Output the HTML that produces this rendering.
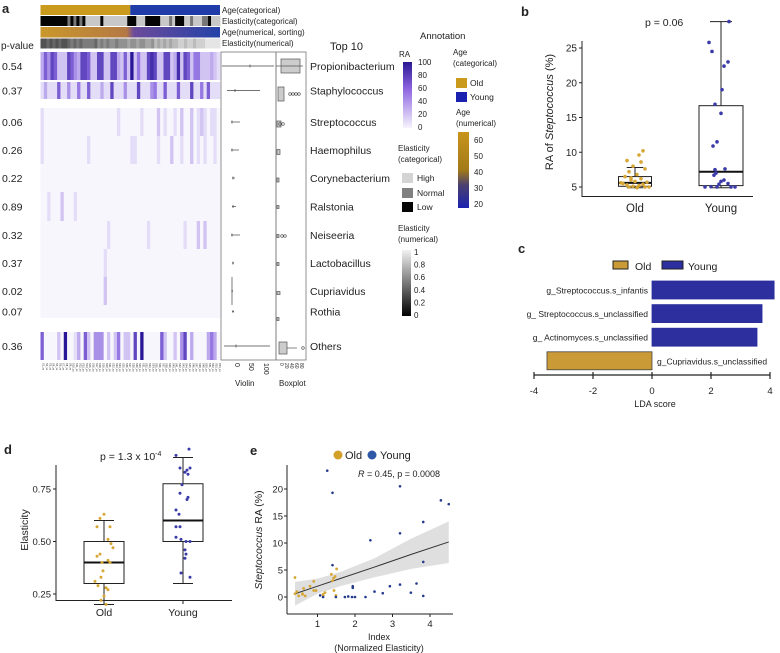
<!DOCTYPE html>
<html><head><meta charset="utf-8"><style>
html,body{margin:0;padding:0;background:#fff;}
svg{display:block;font-family:"Liberation Sans",Arial,sans-serif;}
text{fill:#222;}
</style></head><body>
<svg id="fig" width="780" height="653" viewBox="0 0 780 653" xmlns="http://www.w3.org/2000/svg">
<defs>
<linearGradient id="gRA" x1="0" y1="1" x2="0" y2="0"><stop offset="0" stop-color="#f6f4fd"/><stop offset="0.6" stop-color="#8d63e0"/><stop offset="1" stop-color="#2a1893"/></linearGradient>
<linearGradient id="gAge" x1="0" y1="0" x2="0" y2="1"><stop offset="0" stop-color="#c8951c"/><stop offset="0.5" stop-color="#a27a18"/><stop offset="0.7" stop-color="#4a4070"/><stop offset="1" stop-color="#1c22b0"/></linearGradient>
<linearGradient id="gEl" x1="0" y1="0" x2="0" y2="1"><stop offset="0" stop-color="#f2f2f2"/><stop offset="1" stop-color="#000"/></linearGradient>
<linearGradient id="gAgeNum" x1="0" y1="0" x2="1" y2="0"><stop offset="0" stop-color="#c9982a"/><stop offset="0.48" stop-color="#b47845"/><stop offset="0.52" stop-color="#6c4b9b"/><stop offset="1" stop-color="#2442a8"/></linearGradient>
</defs>
<g id="pa"></g><g id="pb"></g><g id="pc"></g><g id="pd"></g><g id="pe"></g>
</svg>
<script>
// ---------- DATA ----------
const heatSpecies = ["Propionibacterium","Staphylococcus","Streptococcus","Haemophilus","Corynebacterium","Ralstonia","Neiseeria","Lactobacillus","Cupriavidus","Rothia","Others"];
const heatPvalues = ["0.54","0.37","0.06","0.26","0.22","0.89","0.32","0.37","0.02","0.07","0.36"];
const heatRows = [
"364762227643776227722773262925227872277238276255222321",
"131116114115116111311711141117111451161116111711516111",
"100000000000000000000001000000100002010010200201210110",
"100000000000001000000000000110000001000200100201010010",
"000000000000000000000000000000000000000000000000000000",
"001000200010000000000000000000000000000000000000000000",
"000000000000000000001000000000001000000000010002020000",
"000000000000000000010000000000000000000000000000000000",
"000000000000000000020000000000000000000000000000000000",
"000000000000000000000000000000000000000000000000000000",
"600002090013062044402025022070900000620020470300003530"
];
const elastCat = "000000000101010222220222222220002220000022212000221222110222";
const elastNum = "223232322343434444354545545556556556657676767788788788899999";
// panel b
const bOldVals = [10.2,9.6,8.8,8.6,8.0,7.6,7.2,6.8,6.5,6.2,6.0,5.8,5.7,5.5,5.4,5.3,5.2,5.1,5.0,5.0,4.9,5.0,5.6,6.3];
const bOldJit = [8,4,-8,6,-2,10,-6,2,-10,6,-4,0,12,-12,8,-8,4,-2,10,-6,2,14,-14,-4];
const bYoungVals = [28.8,25.8,24.5,23.0,22.4,19.0,16.9,15.6,11.5,10.9,7.6,7.5,7.0,6.7,6.0,5.8,5.5,5.4,5.05,5.0,5.0,5.0,5.0];
const bYoungJit = [8,-12,-9,7,3,1,-6,0,-4,-8,4,-6,-5,-7,3,0,7,-2,-10,10,-16,-4,14];
const bBoxOld = {lo:4.9,q1:5.1,med:5.6,q3:6.5,hi:7.8};
const bBoxYoung = {lo:4.9,q1:5.2,med:7.2,q3:16.7,hi:28.8};
const bTicks = [5,10,15,20,25];
// panel c
const ldaLabels = ["g_Streptococcus.s_infantis","g_ Streptococcus.s_unclassified","g_ Actinomyces.s_unclassified","g_Cupriavidus.s_unclassified"];
const ldaScores = [4.14,3.73,3.56,-3.56];
const ldaTicks = [-4,-2,0,2,4];
// panel d
const dOldVals = [0.63,0.61,0.57,0.57,0.51,0.49,0.44,0.43,0.41,0.40,0.40,0.36,0.33,0.29,0.28,0.27,0.24,0.22,0.2,0.31,0.47];
const dOldJit = [0,-4,-7,6,4,7,-4,-7,4,6,-2,-1,-3,-6,2,4,0,-3,2,-9,9];
const dYoungVals = [0.94,0.91,0.85,0.84,0.85,0.83,0.82,0.77,0.73,0.71,0.70,0.65,0.63,0.57,0.57,0.52,0.51,0.50,0.50,0.46,0.44,0.42,0.35,0.33];
const dYoungJit = [6,-7,-3,4,7,2,5,-1,-3,5,4,-7,-4,-7,-3,-7,-2,3,7,2,3,2,-2,7];
const dBoxOld = {lo:0.2,q1:0.3,med:0.4,q3:0.5,hi:0.6};
const dBoxYoung = {lo:0.3,q1:0.5,med:0.6,q3:0.775,hi:0.9};
const dTicks = [0.25,0.50,0.75];
// panel e
const eYoungX = [1.26,1.4,3.2,4.29,4.5,3.82,3.2,2.41,3.82,1.4,1.94,1.94,2.93,3.2,3.64,2.52,2.74,3.49,3.82,1.07,1.49,1.73,1.82,1.92,2.0,2.28,1.15];
const eYoungY = [23.4,19.3,20.5,17.9,17.2,13.9,11.8,10.5,6.5,5.9,2.0,1.7,2.0,2.3,2.5,1.0,0.7,0.8,0.2,0.3,0,0,0.1,0,0,0,0];
const eOldX = [0.4,0.4,0.6,0.8,1.37,1.4,1.15,1.51,1.47,1.43,0.9,0.9,0.63,0.6,1.2,1.44,1.49,1.15,0.96,0.67,0.45,0.5];
const eOldY = [3.6,0.6,0.6,2.0,4.2,3.0,0.5,5.2,3.8,3.5,2.9,1.2,1.6,0.5,0.8,1.2,0.3,0.3,1.2,0.2,1.0,0.2];
const eFitX = [0.4,1,1.6,2.5,3.5,4.5];
const eFitY = [0.6,2.0,3.4,5.5,7.9,10.2];
const eBandLo = [-1.6,0.6,2.0,3.6,5.2,6.3];
const eBandHi = [2.8,3.4,4.6,7.1,10.8,14.0];
const eXTicks = [1,2,3,4];
const eYTicks = [0,5,10,15,20];

// ---------- helpers ----------
const NS="http://www.w3.org/2000/svg";
function mk(tag, attrs, parent){const e=document.createElementNS(NS,tag);for(const k in attrs)e.setAttribute(k,attrs[k]);parent.appendChild(e);return e;}
function tx(str, x, y, size, parent, anchor){const e=mk('text',{x:x,y:y,'font-size':size,'text-anchor':anchor||'start'},parent);e.textContent=str;return e;}
function lerp(a,b,t){return a+(b-a)*t;}
function heatColor(v){
  const t=v/9; let c;
  const c0=[248,246,253],c1=[142,110,224],c2=[40,22,150];
  if(t<0.6){const u=t/0.6;c=c0.map((x,i)=>lerp(x,c1[i],u));}
  else{const u=(t-0.6)/0.4;c=c1.map((x,i)=>lerp(x,c2[i],u));}
  return 'rgb('+c.map(Math.round).join(',')+')';
}

// ---------- PANEL A ----------
const pa=document.getElementById('pa');
let el;
el=tx('a',2,13,13,pa); el.setAttribute('font-weight','bold');


const hx0=40.5,hx1=220,ncol=54,cw=(hx1-hx0)/ncol;
// annotation bars
el=mk('rect',{x:hx0,y:5,width:(hx1-hx0)/2,height:10,fill:'#c99a1c'},pa);


el=mk('rect',{x:hx0+(hx1-hx0)/2,y:5,width:(hx1-hx0)/2,height:10,fill:'#1f3ca8'},pa);


const catCols=['#050505','#777','#c8c8c8'];
const ne=elastCat.length, ew=(hx1-hx0)/ne;
for(let i=0;i<ne;i++){
  el=mk('rect',{x:hx0+i*ew,y:16,width:ew+0.4,height:10,fill:catCols[+elastCat[i]]},pa);
  
  
  const g=Math.round(40+(+elastNum[i])*21);
  el=mk('rect',{x:hx0+i*ew,y:38.5,width:ew+0.4,height:10,fill:'rgb('+g+','+g+','+g+')'},pa);
  
  
}
el=mk('rect',{x:hx0,y:27,width:hx1-hx0,height:10.5,fill:'url(#gAgeNum)'},pa);


const annLabels=['Age(categorical)','Elasticity(categorical)','Age(numerical, sorting)','Elasticity(numerical)'];
annLabels.forEach((s,i)=>{el=tx(s,222,13+i*11,8,pa);

});
el=tx('p-value',1,49,10,pa);


el=tx('Top 10',330,50,11,pa);


// heat rows
const rowTops=[52,80,108,136,164,192,221,249,277,305,332];
const rowH=[28,18,28,28,28,28,28,28,28,28,28];
const rowDraw=[[52,80],[82,99],[108,136],[136,164],[164,192],[192,221],[221,249],[249,277],[277,305],[305,318],[332,360]];
heatRows.forEach((row,r)=>{
  for(let c=0;c<ncol;c++){
    const v=+row[c];
    el=mk('rect',{x:hx0+c*cw,y:rowDraw[r][0],width:cw+0.3,height:rowDraw[r][1]-rowDraw[r][0],fill:heatColor(v)},pa);
    
    
  }
  const cy=(rowDraw[r][0]+rowDraw[r][1])/2;
  el=tx(heatPvalues[r],2,cy+4,10.5,pa);
  
  
  el=tx(heatSpecies[r],310,cy+4,10.5,pa);
  
  
});
// tiny sample labels
for(let c=0;c<ncol;c++){
  el=tx('S'+(c+1)+'_xx',0,0,2.6,pa);
  el.setAttribute('transform','translate('+(hx0+c*cw+2.2)+',363) rotate(90)');
  el.setAttribute('fill','#555');
  
  
}
// violin & boxplot frames
el=mk('rect',{x:221,y:52,width:55,height:308,fill:'none',stroke:'#777','stroke-width':0.8},pa);


el=mk('rect',{x:276,y:52,width:30,height:308,fill:'none',stroke:'#777','stroke-width':0.8},pa);


const vio=[[222,274,250],[227,260,235],[231,240,232],[231,239,232],[232,235,233],[232,236,233],[231,240,232],[232,234,233],[232,233,232],[232,234,233],[224,270,236]];
vio.forEach((v,r)=>{const cy=(rowDraw[r][0]+rowDraw[r][1])/2;
  el=mk('line',{x1:v[0],x2:v[1],y1:cy,y2:cy,stroke:'#444','stroke-width':0.7},pa);
  
  
  el=mk('line',{x1:v[2],x2:v[2],y1:cy-1.5,y2:cy+1.5,stroke:'#444','stroke-width':0.7},pa);
  
  
});
el=mk('line',{x1:232,x2:232,y1:277,y2:305,stroke:'#444','stroke-width':0.7},pa);


const bxp=[[281,300,293,66,14],[278,284,280,94,14],[277,281,278,124,6],[277,280,278,152,5],[277,279,278,180,4],[277,279,278,207,3],[277,279,278,236,3],[277,279,278,264,3],[277,280,278,293,3],[277,279,278,319,3],[279,287,282,348,12]];
bxp.forEach(b=>{
  el=mk('rect',{x:b[0],y:b[3]-b[4]/2,width:b[1]-b[0],height:b[4],fill:'#ccc',stroke:'#555','stroke-width':0.7},pa);
  
  
});
el=mk('line',{x1:276,x2:303,y1:66,y2:66,stroke:'#555','stroke-width':0.7},pa);


el=mk('line',{x1:287,x2:297,y1:348,y2:348,stroke:'#555','stroke-width':0.7},pa);


[[290,94],[293,94],[296,94],[299,94],[280,124],[283,124],[282,236],[285,236],[303,348]].forEach(p=>{
  el=mk('circle',{cx:p[0],cy:p[1],r:1.3,fill:'none',stroke:'#444','stroke-width':0.6},pa);
  
  
});
[['0',233],['50',247],['100',262]].forEach(t=>{el=tx(t[0],0,0,7,pa);
  el.setAttribute('transform','translate('+(t[1]+2)+',363) rotate(90)');
  
  });
['0','20','40','60','80'].forEach((t,i)=>{el=tx(t,0,0,5,pa);
  el.setAttribute('transform','translate('+(280+i*5)+',363) rotate(90)');
  
  });
el=tx('Violin',235,386,8,pa);


el=tx('Boxplot',279,386,8,pa);


// legends
el=tx('Annotation',420,39,9.5,pa);


el=tx('RA',399,57,8,pa);


el=mk('rect',{x:403,y:62,width:9,height:66,fill:'url(#gRA)'},pa);


['100','80','60','40','20','0'].forEach((t,i)=>{el=tx(t,418,65+i*13,8,pa);
  
  });
el=tx('Age',453,55,8,pa);


el=tx('(categorical)',453,66,8,pa);


el=mk('rect',{x:456,y:78,width:11,height:10,fill:'#c99a1c'},pa);


el=tx('Old',470,86,8.5,pa);


el=mk('rect',{x:456,y:92,width:11,height:10,fill:'#1c22b0'},pa);


el=tx('Young',470,100,8.5,pa);


el=tx('Age',456,115,8,pa);


el=tx('(numerical)',456,126,8,pa);


el=mk('rect',{x:458,y:132,width:11,height:76,fill:'url(#gAge)'},pa);


['60','50','40','30','20'].forEach((t,i)=>{el=tx(t,474,143+i*16,8,pa);
  
  });
el=tx('Elasticity',398,151,8,pa);


el=tx('(categorical)',398,162,8,pa);


[['High','#d4d4d4',173],['Normal','#808080',188],['Low','#050505',202]].forEach(s=>{
  el=mk('rect',{x:402,y:s[2],width:11,height:10,fill:s[1]},pa);
  
  
  el=tx(s[0],417,s[2]+8,8.5,pa);
  
  
});
el=tx('Elasticity',398,231,8,pa);


el=tx('(numerical)',398,242,8,pa);


el=mk('rect',{x:402,y:250,width:9,height:66,fill:'url(#gEl)'},pa);


['1','0.8','0.6','0.4','0.2','0'].forEach((t,i)=>{el=tx(t,414,255+i*12.6,8,pa);
  
  });

// ---------- PANEL B ----------
const pb=document.getElementById('pb');
const yB=v=>187-(v-5)*6.95;
const bOldX=635,bYoungX=721,bBoxW=22;
el=tx('b',521,16,13,pb); el.setAttribute('font-weight','bold');


el=mk('line',{x1:582,x2:582,y1:41,y2:197,stroke:'#222','stroke-width':1},pb);


el=mk('line',{x1:582,x2:753,y1:196.5,y2:196.5,stroke:'#222','stroke-width':1},pb);


bTicks.forEach(t=>{
  el=mk('line',{x1:579,x2:582,y1:yB(t),y2:yB(t),stroke:'#222'},pb);
  
  
  el=tx(String(t),577,yB(t)+3.5,10,pb,'end');
  
  
});
el=tx('',0,0,11,pb,'middle');
el.innerHTML='RA of <tspan font-style="italic">Steptococcus</tspan> (%)';
el.setAttribute('transform','translate(553,112) rotate(-90)');


function drawBox(g,cx,hw,b,yf,name){
  el=mk('line',{x1:cx,x2:cx,y1:yf(b.hi),y2:yf(b.q3),stroke:'#222','stroke-width':1},g);
  
  
  el=mk('line',{x1:cx,x2:cx,y1:yf(b.q1),y2:yf(b.lo),stroke:'#222','stroke-width':1},g);
  
  
  el=mk('line',{x1:cx-hw/2,x2:cx+hw/2,y1:yf(b.hi),y2:yf(b.hi),stroke:'#222','stroke-width':1},g);
  
  
  el=mk('line',{x1:cx-hw/2,x2:cx+hw/2,y1:yf(b.lo),y2:yf(b.lo),stroke:'#222','stroke-width':1},g);
  
  
  el=mk('rect',{x:cx-hw,y:yf(b.q3),width:2*hw,height:yf(b.q1)-yf(b.q3),fill:'none',stroke:'#222','stroke-width':1},g);
  
  
  el=mk('line',{x1:cx-hw,x2:cx+hw,y1:yf(b.med),y2:yf(b.med),stroke:'#111','stroke-width':2},g);
  
  
}
drawBox(pb,bOldX,bBoxW*0.75,bBoxOld,yB,'b-old');
drawBox(pb,bYoungX,bBoxW,bBoxYoung,yB,'b-young');
bOldVals.forEach((v,i)=>{el=mk('circle',{cx:bOldX+bOldJit[i],cy:yB(v),r:1.8,fill:'#d7a736'},pb);
  
  });
bYoungVals.forEach((v,i)=>{el=mk('circle',{cx:bYoungX+bYoungJit[i],cy:yB(v),r:1.8,fill:'#3a3aa8'},pb);
  
  });
el=tx('p = 0.06',645,26,10.5,pb);


el=tx('Old',635,212,11.5,pb,'middle');


el=tx('Young',721,212,11.5,pb,'middle');



// ---------- PANEL C ----------
const pc=document.getElementById('pc');
const xC=v=>652+v*29.5;
el=tx('c',518,253,13,pc); el.setAttribute('font-weight','bold');


el=mk('rect',{x:613,y:261,width:15,height:8,fill:'#c99a35',stroke:'#222','stroke-width':1},pc);


el=tx('Old',635,270,10.5,pc);


el=mk('rect',{x:662,y:261,width:21,height:8,fill:'#2d2f9e',stroke:'#222','stroke-width':1},pc);


el=tx('Young',688,270,10.5,pc);


ldaScores.forEach((s,i)=>{
  const top=281+i*23.6, h=18;
  const x0=Math.min(xC(0),xC(s)), w=Math.abs(xC(s)-xC(0));
  el=mk('rect',{x:x0,y:top,width:w,height:h,fill:s>0?'#2d2f9e':'#c99a35',stroke:s>0?'#2d2f9e':'#444','stroke-width':0.8},pc);
  
  
  el=s>0?tx(ldaLabels[i],xC(0)-4,top+12.5,8.5,pc,'end'):tx(ldaLabels[i],xC(0)+5,top+12.5,8.5,pc);
  
  
});
el=mk('line',{x1:xC(-4),x2:xC(4),y1:375,y2:375,stroke:'#222','stroke-width':1.2},pc);


ldaTicks.forEach(t=>{
  el=mk('line',{x1:xC(t),x2:xC(t),y1:372,y2:379,stroke:'#222','stroke-width':1.2},pc);
  
  
  el=tx(String(t),xC(t),394,9.5,pc,'middle');
  
  
});
el=tx('LDA score',655,407,9,pc,'middle');



// ---------- PANEL D ----------
const pd=document.getElementById('pd');
const yD=v=>489-(v-0.75)*210;
el=tx('d',4,454,13,pd); el.setAttribute('font-weight','bold');


el=mk('line',{x1:56,x2:56,y1:465,y2:601,stroke:'#222','stroke-width':1},pd);


el=mk('line',{x1:56,x2:232,y1:600.5,y2:600.5,stroke:'#222','stroke-width':1},pd);


dTicks.forEach(t=>{
  el=mk('line',{x1:53,x2:56,y1:yD(t),y2:yD(t),stroke:'#222'},pd);
  
  
  el=tx(t.toFixed(2),51,yD(t)+3.5,9.5,pd,'end');
  
  
});
el=tx('Elasticity',0,0,10.5,pd,'middle');
el.setAttribute('transform','translate(28,530) rotate(-90)');


drawBox(pd,104,20,dBoxOld,yD,'d-old');
drawBox(pd,183,20,dBoxYoung,yD,'d-young');
dOldVals.forEach((v,i)=>{el=mk('circle',{cx:104+dOldJit[i],cy:yD(v),r:1.5,fill:'#d7a736'},pd);
  
  });
dYoungVals.forEach((v,i)=>{el=mk('circle',{cx:183+dYoungJit[i],cy:yD(v),r:1.5,fill:'#3a3aa8'},pd);
  
  });
[[104,'Old'],[183,'Young']].forEach(c=>{
  el=mk('line',{x1:c[0],x2:c[0],y1:600,y2:604,stroke:'#222'},pd);
  
  
  el=tx(c[1],c[0],616,10.5,pd,'middle');
  
  
});
el=tx('',100,460,10.5,pd);
el.innerHTML='p = 1.3 x 10<tspan dy="-4" font-size="7">-4</tspan>';



// ---------- PANEL E ----------
const pe=document.getElementById('pe');
const xE=v=>280+v*37.5, yE=v=>597-v*5.4;
el=tx('e',250,455,13,pe); el.setAttribute('font-weight','bold');


let bandPts=eFitX.map((x,i)=>xE(x)+','+yE(eBandHi[i]));
bandPts=bandPts.concat(eFitX.map((x,i)=>xE(x)+','+yE(eBandLo[i])).reverse());
el=mk('polygon',{points:bandPts.join(' '),fill:'#d9d9d9','fill-opacity':0.85},pe);


el=mk('polyline',{points:eFitX.map((x,i)=>xE(x)+','+yE(eFitY[i])).join(' '),fill:'none',stroke:'#333','stroke-width':1},pe);


eOldX.forEach((x,i)=>{el=mk('circle',{cx:xE(x),cy:yE(eOldY[i]),r:1.4,fill:'#d7a736'},pe);
  
  });
eYoungX.forEach((x,i)=>{el=mk('circle',{cx:xE(x),cy:yE(eYoungY[i]),r:1.3,fill:'#233a8c'},pe);
  
  });
el=mk('line',{x1:287,x2:287,y1:465,y2:614,stroke:'#222','stroke-width':1},pe);


el=mk('line',{x1:287,x2:453,y1:614,y2:614,stroke:'#222','stroke-width':1},pe);


eYTicks.forEach(t=>{
  el=mk('line',{x1:284,x2:287,y1:yE(t),y2:yE(t),stroke:'#222'},pe);
  
  
  el=tx(String(t),283,yE(t)+3.5,9.5,pe,'end');
  
  
});
eXTicks.forEach(t=>{
  el=mk('line',{x1:xE(t),x2:xE(t),y1:614,y2:617,stroke:'#222'},pe);
  
  
  el=tx(String(t),xE(t),627,9.5,pe,'middle');
  
  
});
el=tx('',0,0,10.5,pe,'middle');
el.innerHTML='<tspan font-style="italic">Steptococcus</tspan> RA (%)';
el.setAttribute('transform','translate(262,540) rotate(-90)');


el=tx('Index',379,640,9,pe,'middle');


el=tx('(Normalized Elasticity)',379,651,9,pe,'middle');


el=mk('circle',{cx:338,cy:455,r:4.5,fill:'#d3a02a'},pe);


el=tx('Old',345,459,11,pe);


el=mk('circle',{cx:372,cy:455,r:4.5,fill:'#2f58a8'},pe);


el=tx('Young',380,459,11,pe);


el=tx('',358,477,9,pe);
el.innerHTML='<tspan font-style="italic">R</tspan> = 0.45, p = 0.0008';


</script>
</body></html>
